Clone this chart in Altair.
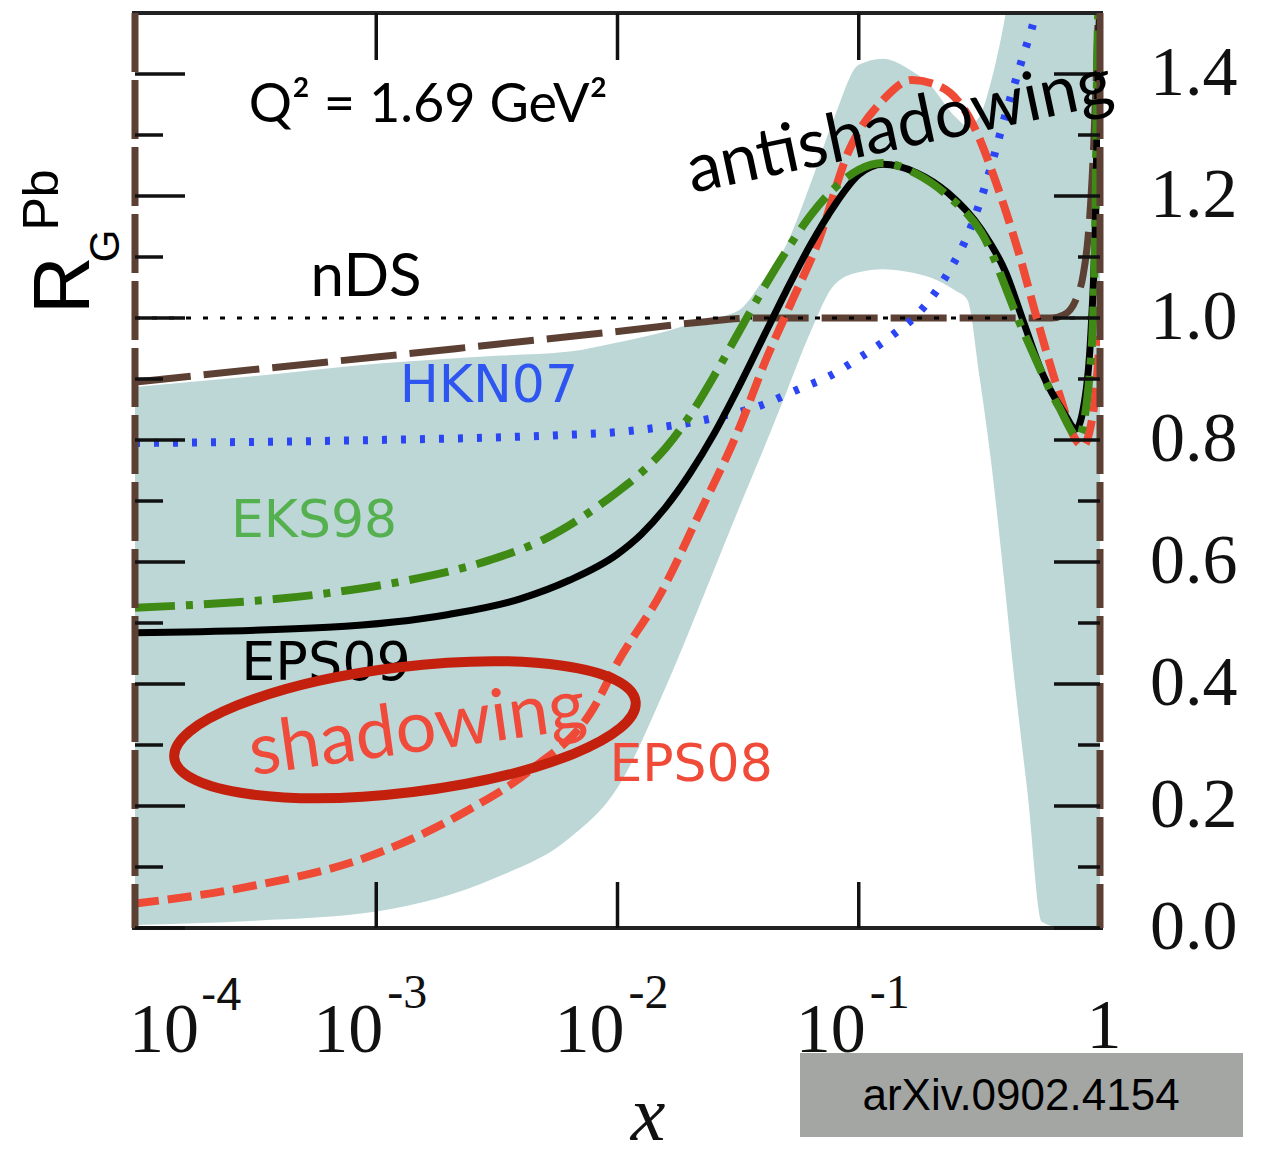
import altair as alt
import numpy as np
import pandas as pd

# ---------------------------------------------------------------
# Nuclear modification of the gluon PDF in lead, R_G^Pb(x, Q^2=1.69 GeV^2)
# x values are stored as log10(x)
# ---------------------------------------------------------------

# EPS09 uncertainty band (upper / lower edge on a common x grid)
band_lx = [-4.0, -3.5, -3.0, -2.5, -2.2, -2.0, -1.8, -1.65, -1.5, -1.4, -1.3, -1.2,
           -1.1, -1.0, -0.9, -0.8, -0.7, -0.6, -0.55, -0.5, -0.45, -0.4, -0.35,
           -0.3, -0.24, -0.15, 0.0]
band_hi = [0.887, 0.905, 0.925, 0.938, 0.945, 0.960, 0.978, 0.996, 1.012, 1.06, 1.12, 1.22,
           1.33, 1.415, 1.425, 1.41, 1.38, 1.33, 1.315, 1.33, 1.39, 1.48, 1.60,
           1.70, 1.70, 1.70, 1.70]
band_lo = [0.005, 0.012, 0.027, 0.083, 0.147, 0.23, 0.395, 0.538, 0.685, 0.78, 0.878, 0.977,
           1.055, 1.075, 1.08, 1.076, 1.066, 1.045, 1.03, 0.905, 0.76, 0.58, 0.39,
           0.22, 0.01, 0.0, 0.0]

# nDS
nds_lx = [-4.0, -3.2, -3.0, -2.5, -2.0, -1.66, -1.44, -1.0, -0.5, -0.2, -0.15, -0.1,
          -0.07, -0.05, -0.03, -0.015, 0.0]
nds_y = [0.895, 0.928, 0.936, 0.957, 0.978, 0.993, 1.0, 1.0, 1.0, 1.0, 1.005, 1.03,
         1.07, 1.13, 1.25, 1.40, 1.60]

# HKN07
hkn_lx = [-4.0, -3.0, -2.24, -2.0, -1.82, -1.58, -1.41, -1.24, -1.13, -1.0, -0.87,
          -0.73, -0.63, -0.54, -0.46, -0.39, -0.32, -0.27, -0.2]
hkn_y = [0.795, 0.800, 0.808, 0.813, 0.821, 0.838, 0.856, 0.885, 0.903, 0.934, 0.969,
         1.018, 1.074, 1.144, 1.237, 1.336, 1.428, 1.494, 1.65]

# EPS08
eps08_lx = [-4.0, -3.54, -3.04, -2.62, -2.36, -2.1, -2.0, -1.82, -1.66, -1.5, -1.38,
            -1.28, -1.17, -1.04, -0.9, -0.78, -0.66, -0.53, -0.43, -0.34, -0.26,
            -0.17, -0.10, -0.07, -0.04, -0.02, 0.0]
eps08_y = [0.040, 0.067, 0.116, 0.193, 0.259, 0.360, 0.435, 0.549, 0.680, 0.815, 0.936,
           1.025, 1.123, 1.275, 1.357, 1.390, 1.379, 1.320, 1.221, 1.111, 0.997,
           0.877, 0.800, 0.790, 0.820, 0.870, 0.970]

# EPS09 (central)
eps09_lx = [-4.0, -3.2, -2.7, -2.4, -2.2, -2.0, -1.9, -1.8, -1.7, -1.6, -1.5, -1.4,
            -1.3, -1.2, -1.1, -1.0, -0.9, -0.76, -0.63, -0.49, -0.39, -0.32, -0.24,
            -0.15, -0.10, -0.07, -0.04, -0.02, 0.0]
eps09_y = [0.484, 0.493, 0.514, 0.540, 0.570, 0.613, 0.646, 0.690, 0.745, 0.810, 0.885, 0.965,
           1.045, 1.120, 1.185, 1.235, 1.252, 1.238, 1.205, 1.144, 1.074, 0.997, 0.91,
           0.845, 0.818, 0.85, 0.96, 1.14, 1.55]

# EKS98
eks_lx = [-4.0, -3.2, -2.87, -2.53, -2.3, -2.1, -2.0, -1.9, -1.8, -1.7, -1.6, -1.5,
          -1.4, -1.3, -1.2, -1.1, -1.0, -0.9, -0.76, -0.63, -0.49, -0.32, -0.17,
          -0.09, -0.04, -0.02, -0.012, 0.0]
eks_y = [0.525, 0.549, 0.570, 0.603, 0.638, 0.686, 0.715, 0.747, 0.787, 0.840, 0.905, 0.975,
         1.045, 1.110, 1.168, 1.213, 1.243, 1.254, 1.236, 1.20, 1.139, 0.98, 0.854,
         0.805, 0.92, 1.14, 1.41, 1.60]

# axis ticks and labels
y_major = [0.0, 0.2, 0.4, 0.6, 0.8, 1.0, 1.2, 1.4]
y_minor = [0.1, 0.3, 0.5, 0.7, 0.9, 1.1, 1.3]
y_labels = ["0.0", "0.2", "0.4", "0.6", "0.8", "1.0", "1.2", "1.4"]
x_decades = [1e-3, 1e-2, 1e-1]
x_exp_labels = ["-3", "-2", "-1"]

# text annotations: log10 x and y of each anchor
ann_lx = {"q2": -2.785, "nds": -3.042, "hkn": -2.533, "eks": -3.258,
          "eps09": -3.208, "eps08": -1.695, "shadow": -2.83, "anti": -0.83,
          "ring": -2.881}
ann_y = {"q2": 1.348, "nds": 1.066, "hkn": 0.889, "eks": 0.667,
         "eps09": 0.433, "eps08": 0.267, "shadow": 0.325, "anti": 1.311,
         "ring": 0.325}

# ---------------------------------------------------------------
W, H = 965, 915
BROWN = "#5c4033"
BAND = "#bdd7d7"
RED = "#ee4a35"
GREEN = "#3e8a14"
BLUE = "#2b45f5"
COMIC = "Comic Sans MS, Lato, sans-serif"
SERIF = "Liberation Serif, Times New Roman, serif"

xs = alt.Scale(type="log", domain=[1e-4, 1.0], nice=False)
ys = alt.Scale(domain=[0, 1.5], nice=False, zero=False)
X = lambda f="x": alt.X(f"{f}:Q", scale=xs, axis=None)
Y = lambda f="y": alt.Y(f"{f}:Q", scale=ys, axis=None)


def curve(lx, y):
    return pd.DataFrame({"x": 10.0 ** np.asarray(lx), "y": y})


def at(key, text):
    return pd.DataFrame({"x": [10.0 ** ann_lx[key]], "y": [ann_y[key]], "t": [text]})


band = alt.Chart(pd.DataFrame({"x": 10.0 ** np.asarray(band_lx), "hi": band_hi, "lo": band_lo})).mark_area(
    color=BAND, interpolate="monotone", clip=True
).encode(x=X(), y=Y("hi"), y2="lo:Q")

nds = alt.Chart(curve(nds_lx, nds_y)).mark_line(
    color=BROWN, strokeWidth=7, strokeDash=[56, 13], interpolate="monotone", clip=True
).encode(x=X(), y=Y())

unity = alt.Chart(pd.DataFrame({"y": [1.0]})).mark_rule(
    color="black", strokeWidth=3, strokeDash=[5, 12]
).encode(y=Y(), x=alt.value(0), x2=alt.value(W))

hkn = alt.Chart(curve(hkn_lx, hkn_y)).mark_line(
    color=BLUE, strokeWidth=8, strokeDash=[5, 14], interpolate="monotone", clip=True
).encode(x=X(), y=Y())

eps08 = alt.Chart(curve(eps08_lx, eps08_y)).mark_line(
    color=RED, strokeWidth=8, strokeDash=[24, 9], interpolate="monotone", clip=True
).encode(x=X(), y=Y())

eps09 = alt.Chart(curve(eps09_lx, eps09_y)).mark_line(
    color="black", strokeWidth=7, interpolate="monotone", clip=True
).encode(x=X(), y=Y())

eks = alt.Chart(curve(eks_lx, eks_y)).mark_line(
    color=GREEN, strokeWidth=8, strokeDash=[40, 11, 7, 11], interpolate="monotone", clip=True
).encode(x=X(), y=Y())

# frame: black top/bottom, brown dashed sides
frame_tb = alt.Chart(pd.DataFrame({"y": [0.0, 1.5]})).mark_rule(color="#222", strokeWidth=4).encode(
    y=Y(), x=alt.value(-3), x2=alt.value(W + 3))
frame_lr = alt.Chart(pd.DataFrame({"x": [1e-4, 1.0]})).mark_rule(
    color=BROWN, strokeWidth=7, strokeDash=[59, 8]
).encode(x=X(), y=alt.value(0), y2=alt.value(H))

tick_style = dict(color="#111", strokeWidth=3.5)
df_major = pd.DataFrame({"y": y_major, "t": y_labels})
df_minor = pd.DataFrame({"y": y_minor})
ticks = [
    alt.Chart(df_major).mark_rule(**tick_style).encode(y=Y(), x=alt.value(0), x2=alt.value(50)),
    alt.Chart(df_minor).mark_rule(**tick_style).encode(y=Y(), x=alt.value(0), x2=alt.value(28)),
    alt.Chart(df_major).mark_rule(**tick_style).encode(y=Y(), x=alt.value(W - 46), x2=alt.value(W)),
    alt.Chart(df_minor).mark_rule(**tick_style).encode(y=Y(), x=alt.value(W - 22), x2=alt.value(W)),
]
df_dec = pd.DataFrame({"x": x_decades, "e": x_exp_labels})
ticks += [
    alt.Chart(df_dec).mark_rule(**tick_style).encode(x=X(), y=alt.value(0), y2=alt.value(47)),
    alt.Chart(df_dec).mark_rule(**tick_style).encode(x=X(), y=alt.value(H - 46), y2=alt.value(H)),
]

# right-hand y labels
ylab = alt.Chart(df_major).mark_text(
    font=SERIF, fontSize=70, align="left", baseline="middle", color="#111"
).encode(y=Y(), x=alt.value(W + 50), text="t:N")

# x labels 10^n
xlab_base = alt.Chart(df_dec).mark_text(
    font=SERIF, fontSize=70, align="right", baseline="alphabetic", dx=7, color="#111", text="10"
).encode(x=X(), y=alt.value(H + 124))
xlab_exp = alt.Chart(df_dec).mark_text(
    font=SERIF, fontSize=48, align="left", baseline="alphabetic", dx=11, color="#111"
).encode(x=X(), y=alt.value(H + 80), text="e:N")
df_first = pd.DataFrame({"x": [1e-4], "e": ["-4"]})
xlab_first = alt.Chart(df_first).mark_text(
    font=SERIF, fontSize=70, align="right", baseline="alphabetic", dx=64, color="#111", text="10"
).encode(x=X(), y=alt.value(H + 124))
xlab_first_exp = alt.Chart(df_first).mark_text(
    font="Liberation Sans, sans-serif", fontSize=46, align="left", baseline="alphabetic", dx=66,
    color="#111"
).encode(x=X(), y=alt.value(H + 82), text="e:N")
df_one = pd.DataFrame({"x": [1.0], "t": ["1"]})
xlab_one = alt.Chart(df_one).mark_text(
    font=SERIF, fontSize=70, align="center", baseline="alphabetic", dx=4, color="#111"
).encode(x=X(), y=alt.value(H + 120), text="t:N")

title_df = pd.DataFrame({"t": ["x"]})
xtitle = alt.Chart(title_df).mark_text(
    font=SERIF, fontSize=78, fontStyle="italic", align="center", baseline="alphabetic", color="#111"
).encode(x=alt.value(513), y=alt.value(H + 212), text="t:N")

ytitle_R = alt.Chart(pd.DataFrame({"t": ["R"]})).mark_text(
    font="Liberation Sans, sans-serif", fontSize=80, angle=270, align="center", baseline="middle",
    color="black"
).encode(x=alt.value(-70), y=alt.value(272), text="t:N")
ytitle_G = alt.Chart(pd.DataFrame({"t": ["G"]})).mark_text(
    font="Liberation Sans, sans-serif", fontSize=42, angle=270, align="center", baseline="middle",
    color="black"
).encode(x=alt.value(-29), y=alt.value(233), text="t:N")
ytitle_Pb = alt.Chart(pd.DataFrame({"t": ["Pb"]})).mark_text(
    font="Liberation Sans, sans-serif", fontSize=50, angle=270, align="center", baseline="middle",
    color="black"
).encode(x=alt.value(-92), y=alt.value(187), text="t:N")


# annotations
def label(key, text, color, size, font="DejaVu Sans, sans-serif", angle=0, weight="normal"):
    kw = dict(font=font, fontSize=size, color=color, align="center", baseline="middle",
              fontWeight=weight)
    if angle:
        kw["angle"] = angle
    return alt.Chart(at(key, text)).mark_text(**kw).encode(x=X(), y=Y(), text="t:N")


labels = [
    label("q2", "Q² = 1.69 GeV²", "black", 54, COMIC),
    label("nds", "nDS", "black", 60, COMIC),
    label("hkn", "HKN07", "#2f55f0", 52),
    label("eks", "EKS98", "#55b050", 52),
    label("eps09", "EPS09", "black", 54),
    label("eps08", "EPS08", "#f04a38", 52),
    label("anti", "antishadowing", "black", 68, COMIC, angle=348),
]

ring = alt.Chart(at("ring", "")).mark_point(
    shape="M-1,0A1,0.27,0,1,1,1,0A1,0.27,0,1,1,-1,0Z", size=216000, filled=False,
    stroke="#c4200e", strokeWidth=10, opacity=1, angle=353
).encode(x=X(), y=Y())

shadow_txt = label("shadow", "shadowing", "#f04a3a", 72, COMIC, angle=352)

ref_df = pd.DataFrame({"t": ["arXiv.0902.4154"]})
ref_box = alt.Chart(ref_df).mark_rect(color="#a4a6a4").encode(
    x=alt.value(665), x2=alt.value(1108), y=alt.value(1040), y2=alt.value(1124))
ref_txt = alt.Chart(ref_df).mark_text(
    font="Liberation Sans, sans-serif", fontSize=44, color="black", align="center", baseline="middle"
).encode(x=alt.value(886), y=alt.value(1084), text="t:N")

chart = alt.layer(
    band, nds, unity, hkn, eps08, eps09, eks,
    frame_tb, frame_lr, *ticks,
    ylab, xlab_base, xlab_exp, xlab_first, xlab_first_exp, xlab_one, xtitle,
    ytitle_R, ytitle_G, ytitle_Pb,
    *labels, ring, shadow_txt,
    ref_box, ref_txt,
).properties(
    width=W, height=H,
    padding={"left": 135, "top": 13, "right": 171, "bottom": 231},
    autosize=alt.AutoSizeParams(type="none"),
    background="white",
).configure_view(strokeWidth=0)

chart.save("out.html", embed_options={"renderer": "svg", "actions": False})
